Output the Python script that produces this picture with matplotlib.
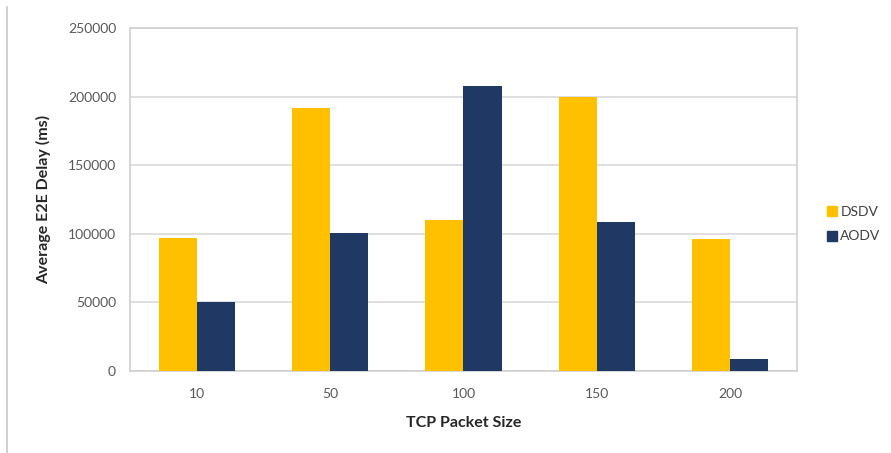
import numpy as np
import matplotlib.pyplot as plt
from matplotlib.lines import Line2D

plt.rcParams['font.family'] = ['Lato', 'DejaVu Sans']

packet_sizes = ['10', '50', '100', '150', '200']
dsdv_delay = [97000, 192000, 110000, 200000, 96000]
aodv_delay = [50500, 100500, 207500, 108500, 9000]

fig = plt.figure(figsize=(8.91, 4.53), dpi=100)
ax = fig.add_axes([0.1459, 0.181, 0.7486, 0.757])

index = np.arange(len(packet_sizes))
bar_width = 0.285

ax.bar(index - bar_width / 2, dsdv_delay, bar_width, color='#ffc000', label='DSDV', zorder=3)
ax.bar(index + bar_width / 2, aodv_delay, bar_width, color='#1f3864', label='AODV', zorder=3)

ax.set_xlim(-0.5, len(packet_sizes) - 0.5)
ax.set_ylim(0, 250000)
ax.set_yticks(np.arange(0, 250001, 50000))
ax.set_xticks(index)
ax.set_xticklabels(packet_sizes)
ax.yaxis.grid(True, color='#d9d9d9', linewidth=1.2, zorder=0)
ax.tick_params(length=0, colors='#595959', labelsize=10)
ax.tick_params(axis='x', pad=12)
ax.tick_params(axis='y', pad=10)
for s in ax.spines.values():
    s.set_color('#d0d0d0')
    s.set_linewidth(1.2)

ax.set_xlabel('TCP Packet Size', fontsize=11.5, fontweight='bold', color='#262626', labelpad=12)
ax.set_ylabel('Average E2E Delay (ms)', fontsize=11.5, fontweight='bold', color='#262626', labelpad=12)

handles = [Line2D([], [], marker='s', linestyle='none', markersize=7, color='#ffc000'),
           Line2D([], [], marker='s', linestyle='none', markersize=7, color='#1f3864')]
fig.legend(handles, ['DSDV', 'AODV'], loc='center left', bbox_to_anchor=(0.915, 0.505),
           frameon=False, handlelength=0.6, handletextpad=0.3, labelspacing=0.9,
           prop={'size': 10}, labelcolor='#404040')

# thin frame line at the left edge
fig.add_artist(Line2D([0.008, 0.008], [0, 0.985], color='#c8c8c8', linewidth=1.2,
                      transform=fig.transFigure))

fig.savefig('out.png', dpi=100)
